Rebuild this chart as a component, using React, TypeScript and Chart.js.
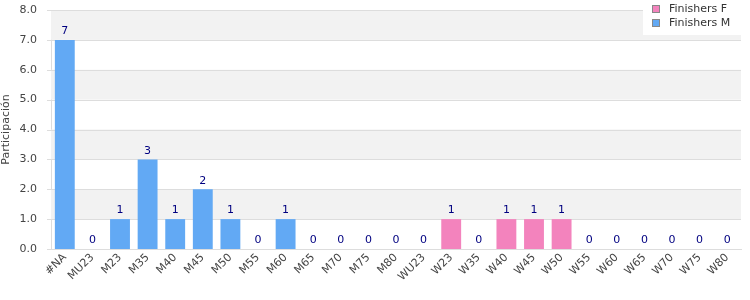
import React, { useEffect, useRef } from "react";
import { Chart, registerables } from "chart.js";
Chart.register(...registerables);

const categories = ["#NA","MU23","M23","M35","M40","M45","M50","M55","M60","M65","M70","M75","M80","WU23","W23","W35","W40","W45","W50","W55","W60","W65","W70","W75","W80"];
const finishersF = [0,0,0,0,0,0,0,0,0,0,0,0,0,0,1,0,1,1,1,0,0,0,0,0,0];
const finishersM = [7,0,1,3,1,2,1,0,1,0,0,0,0,0,0,0,0,0,0,0,0,0,0,0,0];
const seriesNames = ["Finishers F", "Finishers M"];
const colorF = "#f383bd";
const colorM = "#62a9f4";
const FONT = "'DejaVu Sans', sans-serif";

const bandsPlugin = {
  id: "bands",
  beforeDatasetsDraw(chart: any) {
    const { ctx, chartArea, scales } = chart;
    const y = scales.y;
    ctx.save();
    ctx.fillStyle = "#f2f2f2";
    for (let v = 1; v < 8; v += 2) {
      const top = y.getPixelForValue(v + 1);
      const bot = y.getPixelForValue(v);
      ctx.fillRect(chartArea.left, top, chartArea.right - chartArea.left, bot - top);
    }
    ctx.strokeStyle = "#dddddd";
    ctx.lineWidth = 1;
    for (let v = 0; v <= 8; v++) {
      const py = Math.round(y.getPixelForValue(v)) + 0.5;
      ctx.beginPath();
      ctx.moveTo(chartArea.left - 4, py);
      ctx.lineTo(chartArea.right, py);
      ctx.stroke();
    }
    ctx.restore();
  },
};

const labelsPlugin = {
  id: "totals",
  afterDatasetsDraw(chart: any) {
    const { ctx, scales } = chart;
    ctx.save();
    ctx.fillStyle = "#000080";
    ctx.font = `11px ${FONT}`;
    ctx.textAlign = "center";
    ctx.textBaseline = "bottom";
    categories.forEach((_, i) => {
      const total = finishersF[i] + finishersM[i];
      const x = scales.x.getPixelForValue(i);
      const py = scales.y.getPixelForValue(total);
      ctx.fillText(String(total), x, py - 3);
    });
    ctx.restore();
  },
};

const legendPlugin = {
  id: "customLegend",
  afterDraw(chart: any) {
    const { ctx } = chart;
    ctx.save();
    ctx.fillStyle = "#ffffff";
    ctx.fillRect(643, 0, 98, 35);
    const items = [
      { name: seriesNames[0], color: colorF, y: 9 },
      { name: seriesNames[1], color: colorM, y: 23 },
    ];
    ctx.font = `11px ${FONT}`;
    ctx.textBaseline = "middle";
    items.forEach((it) => {
      ctx.fillStyle = it.color;
      ctx.fillRect(652.5, it.y - 3.5, 7, 7);
      ctx.strokeStyle = "#888888";
      ctx.lineWidth = 1;
      ctx.strokeRect(652.5, it.y - 3.5, 7, 7);
      ctx.fillStyle = "#333333";
      ctx.fillText(it.name, 669, it.y);
    });
    ctx.restore();
  },
};

export default function App() {
  const ref = useRef<HTMLCanvasElement>(null);
  useEffect(() => {
    document.body.style.margin = "0";
    const chart = new Chart(ref.current!, {
      type: "bar",
      data: {
        labels: categories,
        datasets: [
          { label: seriesNames[0], data: finishersF, backgroundColor: colorF, categoryPercentage: 0.72, barPercentage: 1 },
          { label: seriesNames[1], data: finishersM, backgroundColor: colorM, categoryPercentage: 0.72, barPercentage: 1 },
        ],
      },
      options: {
        animation: false,
        responsive: false,
        layout: { padding: { top: 10, right: 9, left: 0, bottom: 0 } },
        plugins: { legend: { display: false }, tooltip: { enabled: false } },
        scales: {
          x: {
            stacked: true,
            grid: { display: false, drawTicks: false },
            border: { color: "#dddddd" },
            ticks: {
              color: "#444444",
              font: { family: FONT, size: 11 },
              maxRotation: 45,
              minRotation: 45,
              autoSkip: false,
              padding: 2,
            },
            afterFit: (s: any) => { s.height = 51; s.paddingLeft = 0; s.paddingRight = 0; },
          },
          y: {
            stacked: true,
            min: 0,
            max: 8,
            grid: { display: false },
            border: { color: "#dddddd" },
            ticks: {
              stepSize: 1,
              color: "#444444",
              font: { family: FONT, size: 11 },
              callback: (v: any) => Number(v).toFixed(1),
              padding: 6,
            },
            title: { display: true, text: "Participación", color: "#444444", font: { family: FONT, size: 11 }, padding: 0 },
            afterFit: (s: any) => { s.width = 51; s.paddingTop = 0; s.paddingBottom = 0; },
          },
        },
      },
      plugins: [bandsPlugin, labelsPlugin, legendPlugin],
    });
    return () => chart.destroy();
  }, []);
  return <canvas ref={ref} width={750} height={300} style={{ display: "block" }} />;
}
